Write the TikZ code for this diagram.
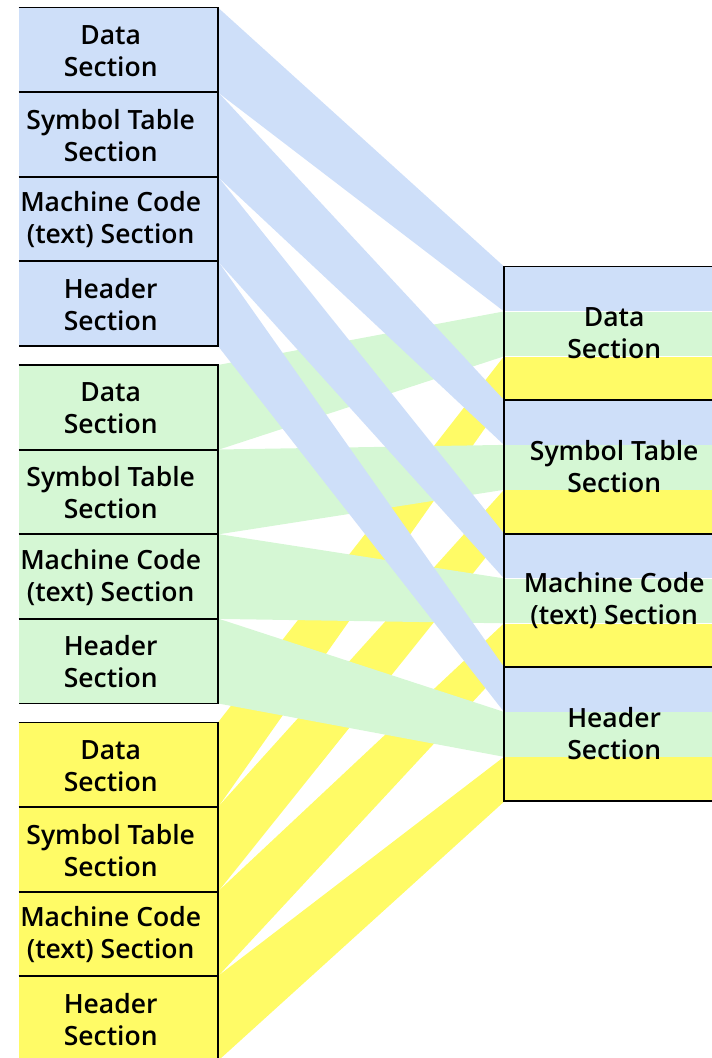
\documentclass[tikz,border=0pt]{standalone}
\usepackage{fontspec}
\setmainfont{Open Sans}[BoldFont={Open Sans Semibold}]
\definecolor{cblue}{HTML}{CEDFF9}
\definecolor{cgreen}{HTML}{D5F7D4}
\definecolor{cyellow}{HTML}{FFFB66}
\begin{document}
\begin{tikzpicture}[x=1pt,y=-1pt,
  lbox/.style={rectangle,inner sep=0pt,minimum width=199pt,minimum height=84.5pt,anchor=north west},
  rbox/.style={rectangle,inner sep=0pt,minimum width=220pt,minimum height=133.5pt,anchor=north west},
  band/.style={rectangle,inner sep=0pt,minimum width=220pt,minimum height=44.5pt,anchor=north west},
  txt/.style={font=\fontsize{26.5}{32}\selectfont\bfseries,align=center,inner sep=0pt},
  border/.style={line width=1.2pt,black}]
\useasboundingbox (0,0) rectangle (712,1058);
\clip (0,0) rectangle (712,1058);
% left boxes
\foreach \c/\col/\top in {b/cblue/7.5, g/cgreen/365, y/cyellow/722.5}{
  \foreach \i in {0,1,2,3}{
    \node[lbox,fill=\col] (L-\c-\i) at (18.5,\top+84.5*\i) {};
  }
}
% right boxes and bands
\foreach \i in {0,1,2,3}{
  \node[rbox] (R-\i) at (504,266.5+133.5*\i) {};
  \node[band,fill=cblue] (R-\i-b) at (R-\i.north west) {};
  \node[band,fill=cgreen,anchor=north west] (R-\i-g) at (R-\i-b.south west) {};
  \node[band,fill=cyellow,anchor=north west] (R-\i-y) at (R-\i-g.south west) {};
}
% strips
\foreach \c/\col in {y/cyellow, g/cgreen, b/cblue}{
  \foreach \i in {0,1,2,3}{
    \fill[\col] (L-\c-\i.north east) -- (R-\i-\c.north west) -- (R-\i-\c.south west) -- (L-\c-\i.south east) -- cycle;
  }
}
% borders
\foreach \c in {b,g,y}{
  \foreach \i in {0,1,2,3}{
    \draw[border] (L-\c-\i.north west) -- (L-\c-\i.north east) -- (L-\c-\i.south east) -- (L-\c-\i.south west);
  }
}
\foreach \i in {0,1,2,3}{
  \draw[border] (R-\i.north east) -- (R-\i.north west) -- (R-\i.south west) -- (R-\i.south east);
}
% texts
\foreach \c in {b,g,y}{
  \node[txt] (T-\c-0) at ([xshift=-7.5pt,yshift=-1pt]L-\c-0.center) {Data\\Section};
  \node[txt] (T-\c-1) at ([xshift=-7.5pt,yshift=-1pt]L-\c-1.center) {Symbol Table\\Section};
  \node[txt] (T-\c-2) at ([xshift=-7.5pt,yshift=-1pt]L-\c-2.center) {Machine Code\\(text) Section};
  \node[txt] (T-\c-3) at ([xshift=-7.5pt,yshift=-1pt]L-\c-3.center) {Header\\Section};
}
\node[txt] (TR-0) at (R-0.center) {Data\\Section};
\node[txt] (TR-1) at (R-1.center) {Symbol Table\\Section};
\node[txt] (TR-2) at (R-2.center) {Machine Code\\(text) Section};
\node[txt] (TR-3) at (R-3.center) {Header\\Section};
\end{tikzpicture}
\end{document}
